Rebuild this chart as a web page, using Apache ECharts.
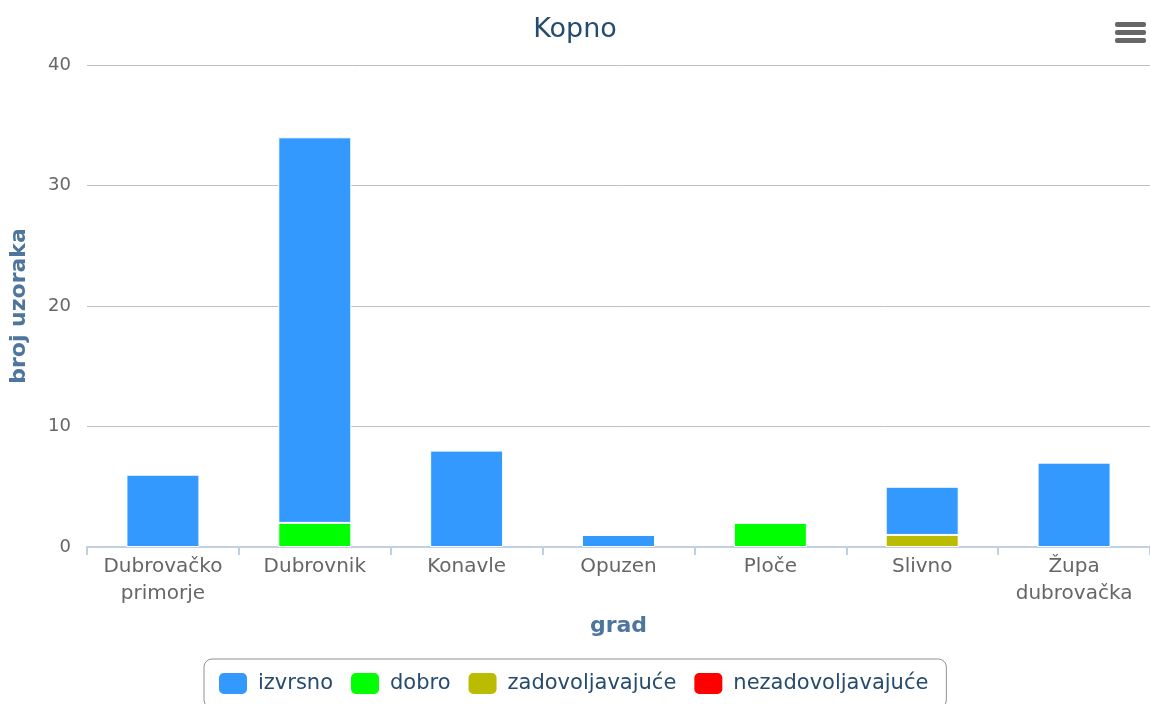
<!DOCTYPE html>
<html>
<head>
<meta charset="utf-8">
<script src="https://cdn.jsdelivr.net/npm/echarts@6/dist/echarts.min.js"></script>
<style>html,body{margin:0;padding:0;background:#fff}#c{width:1150px;height:704px}</style>
</head>
<body>
<div id="c"></div>
<script>
var categories = ['Dubrovačko\nprimorje', 'Dubrovnik', 'Konavle', 'Opuzen', 'Ploče', 'Slivno', 'Župa\ndubrovačka'];
var izvrsno = [6, 32, 8, 1, 0, 4, 7];
var dobro = [0, 2, 0, 0, 2, 0, 0];
var zadovoljavajuce = [0, 0, 0, 0, 0, 1, 0];
var nezadovoljavajuce = [0, 0, 0, 0, 0, 0, 0];
var yTicks = { min: 0, max: 40, interval: 10 };

var FONT = '"DejaVu Sans", Verdana, sans-serif';
function nz(arr) { return arr.map(function (v) { return v === 0 ? null : v; }); }
function bar(name, data, color) {
  return {
    name: name, type: 'bar', stack: 'total', data: nz(data), barWidth: 73,
    itemStyle: { color: color, borderColor: '#ffffff', borderWidth: 1 },
    emphasis: { disabled: true }
  };
}
var chart = echarts.init(document.getElementById('c'));
chart.setOption({
  animation: false,
  backgroundColor: '#ffffff',
  title: {
    text: 'Kopno', left: 'center', top: 11,
    textStyle: { color: '#274b6d', fontSize: 27, fontWeight: 'normal', fontFamily: FONT }
  },
  grid: { left: 87, right: 0, top: 65, bottom: 157, containLabel: false, outerBoundsMode: 'none' },
  legend: {
    data: ['izvrsno', 'dobro', 'zadovoljavajuće', 'nezadovoljavajuće'],
    top: 659, left: 204,
    borderColor: '#909090', borderWidth: 1, borderRadius: 8,
    padding: [12, 18, 12, 13],
    icon: 'roundRect', itemWidth: 30, itemHeight: 23, itemGap: 16,
    textStyle: { color: '#274b6d', fontSize: 21, fontFamily: FONT, padding: [0, 0, 0, 5] }
  },
  xAxis: {
    type: 'category', data: categories,
    name: 'grad', nameLocation: 'middle', nameGap: 68,
    nameTextStyle: { color: '#4d759e', fontWeight: 'bold', fontSize: 22, fontFamily: FONT },
    axisLine: { lineStyle: { color: '#c0d0e0', width: 2 } },
    axisTick: { show: true, length: 8, lineStyle: { color: '#c0d0e0', width: 2 } },
    axisLabel: { color: '#666666', fontSize: 20, fontFamily: FONT, lineHeight: 27, margin: 6, interval: 0 },
    splitLine: { show: false }
  },
  yAxis: {
    type: 'value', min: yTicks.min, max: yTicks.max, interval: yTicks.interval,
    name: 'broj uzoraka', nameLocation: 'middle', nameGap: 57, nameRotate: 90,
    nameTextStyle: { color: '#4d759e', fontWeight: 'bold', fontSize: 22, fontFamily: FONT },
    axisLine: { show: false }, axisTick: { show: false },
    axisLabel: { color: '#666666', fontSize: 18, fontFamily: FONT, margin: 16 },
    splitLine: { lineStyle: { color: '#c0c0c0', width: 1 } }
  },
  series: [
    bar('nezadovoljavajuće', nezadovoljavajuce, '#ff0000'),
    bar('zadovoljavajuće', zadovoljavajuce, '#bbbb00'),
    bar('dobro', dobro, '#00ff00'),
    bar('izvrsno', izvrsno, '#3399ff')
  ],
  graphic: [
    { type: 'rect', left: 1115, top: 22, shape: { width: 31, height: 5, r: 2 }, style: { fill: '#666666' } },
    { type: 'rect', left: 1115, top: 30, shape: { width: 31, height: 5, r: 2 }, style: { fill: '#666666' } },
    { type: 'rect', left: 1115, top: 38, shape: { width: 31, height: 5, r: 2 }, style: { fill: '#666666' } }
  ]
});
</script>
</body>
</html>
